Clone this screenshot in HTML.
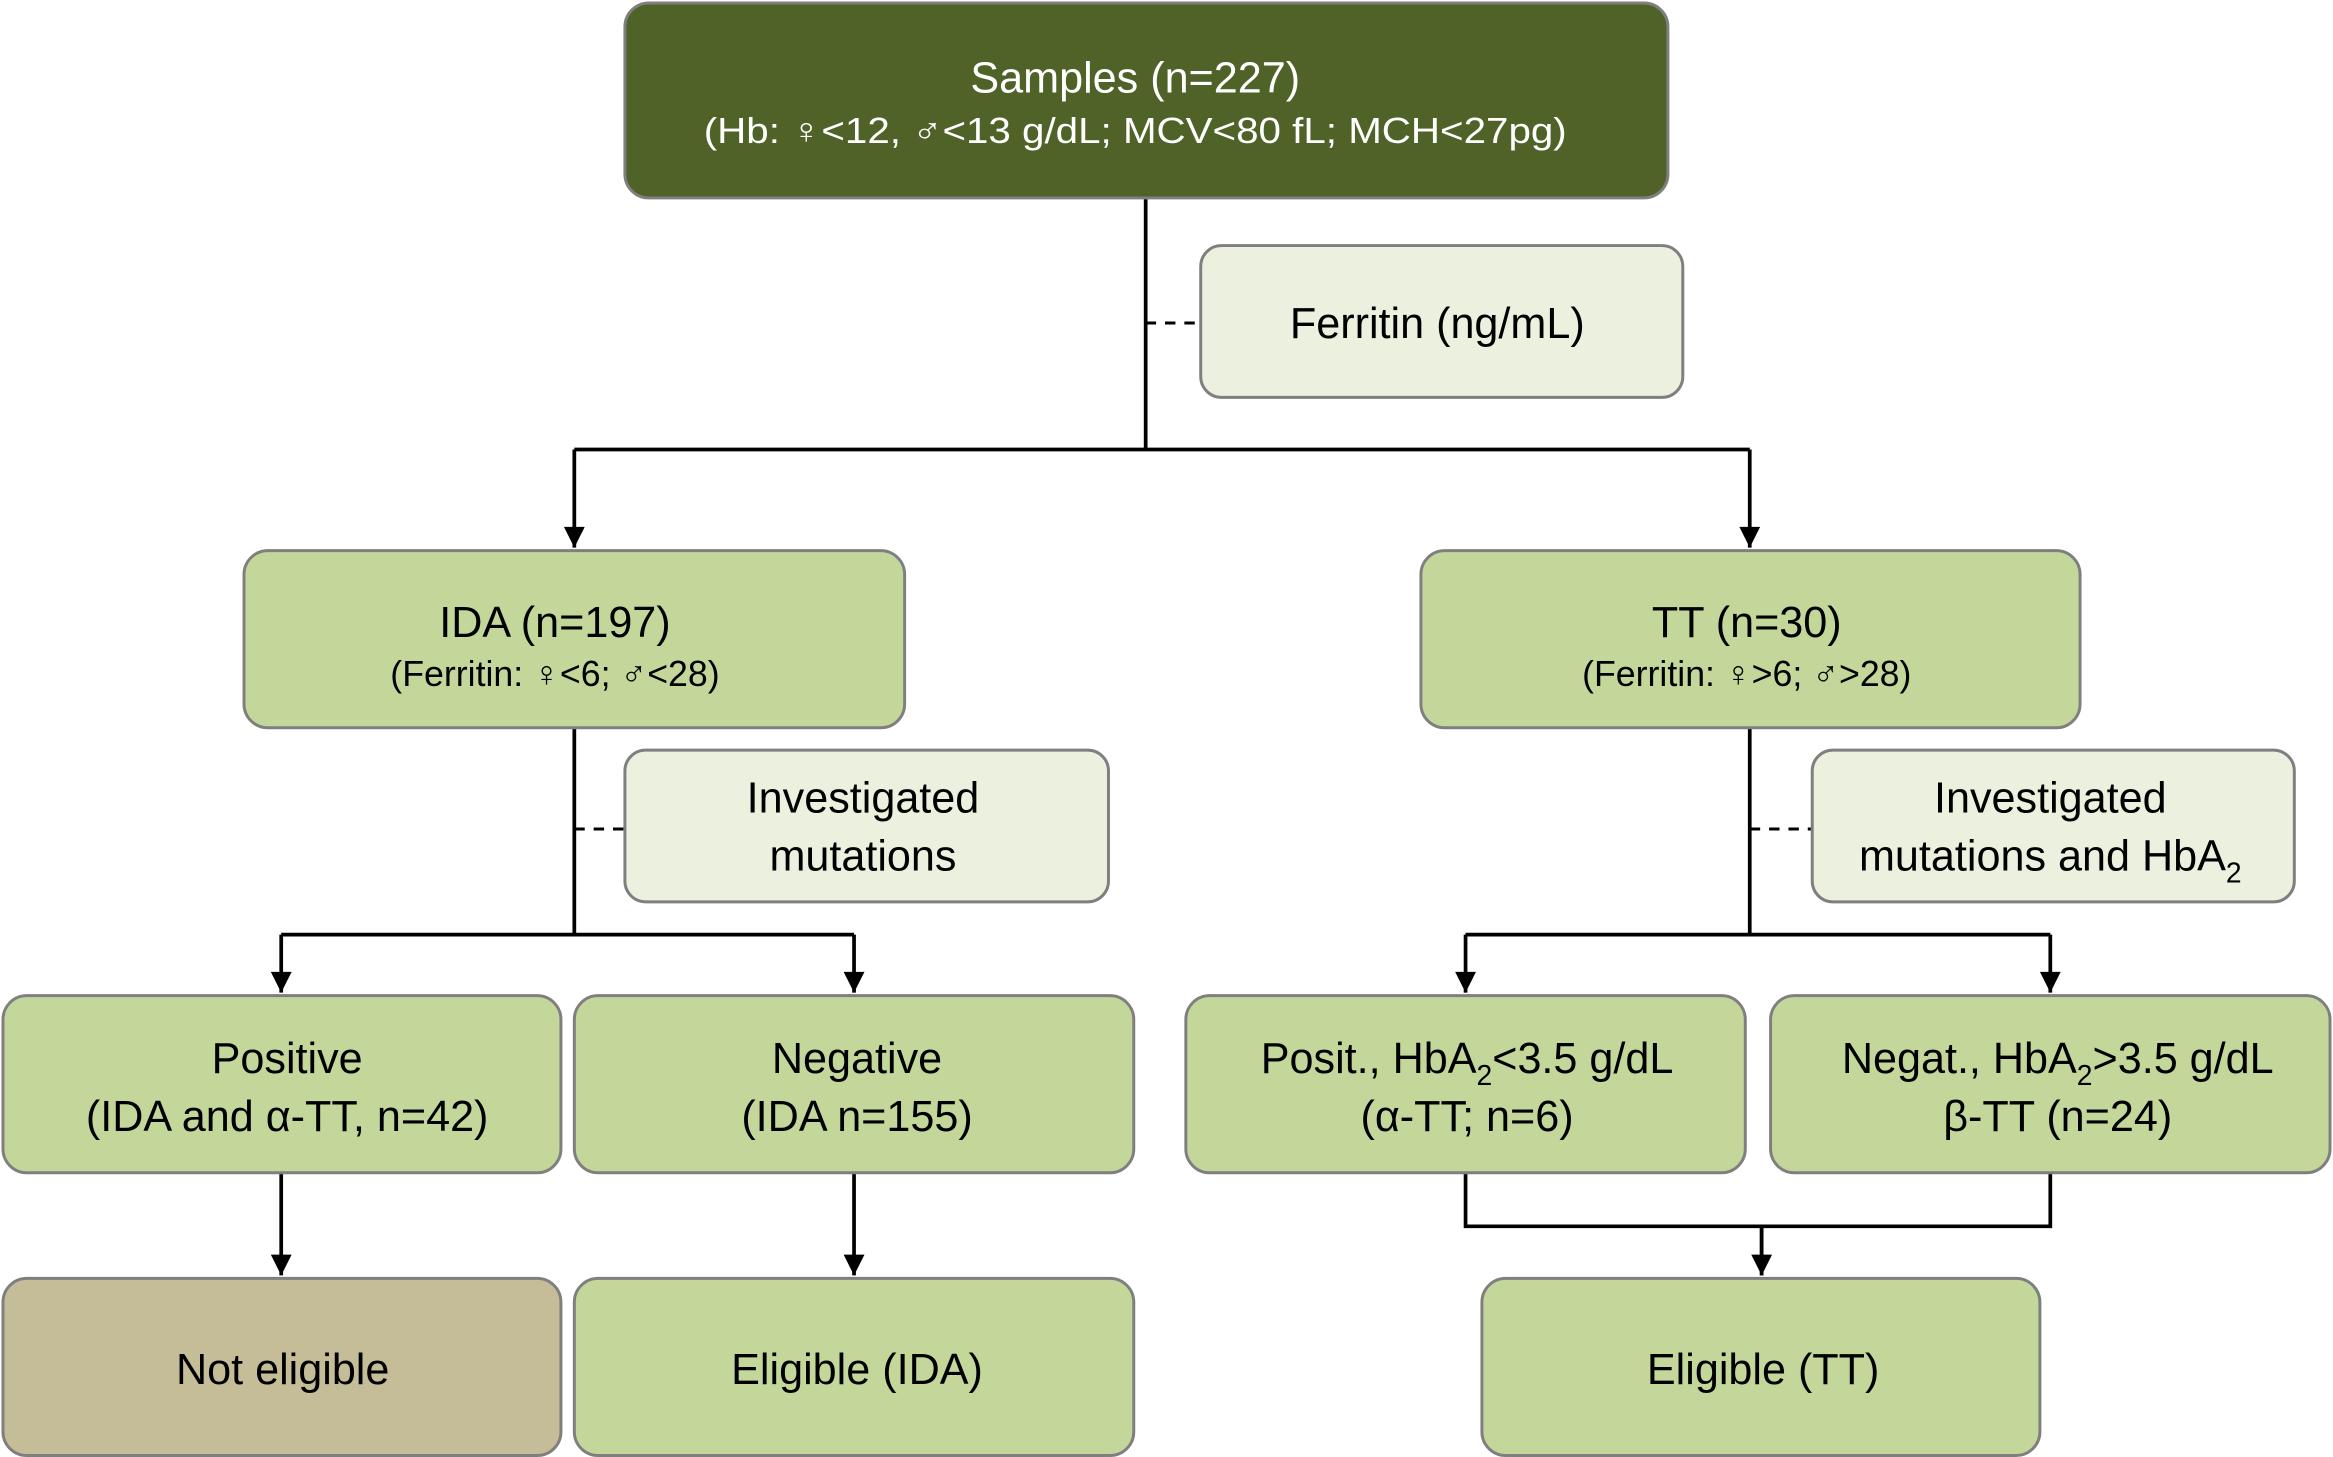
<!DOCTYPE html>
<html><head><meta charset="utf-8"><style>
html,body{margin:0;padding:0;background:#fff;}
svg{display:block}
text{font-family:"Liberation Sans","DejaVu Sans",sans-serif;text-anchor:middle;fill:#000}
</style></head><body>
<svg width="2333" height="1457" viewBox="0 0 1568 979" preserveAspectRatio="none" xmlns="http://www.w3.org/2000/svg">
<defs><marker id="a" markerWidth="10" markerHeight="10" refX="5" refY="9" orient="auto" markerUnits="userSpaceOnUse"><path d="M0,0 L10,0 L5,10 z" fill="#000"/></marker>
<marker id="b" viewBox="0 0 10 10" markerWidth="14" markerHeight="16" refX="5" refY="10" orient="0" markerUnits="userSpaceOnUse"><path d="M0,0 L10,0 L5,10 z" fill="#000"/></marker></defs>
<g stroke="#000" stroke-width="2.5" fill="none">
<path d="M770,133 V302"/>
<path d="M386,302 H1176"/>
<path d="M386,302 V368" marker-end="url(#b)"/>
<path d="M1176,302 V368" marker-end="url(#b)"/>
<path d="M386,489 V628 M189,628 H574"/>
<path d="M189,628 V667" marker-end="url(#b)"/>
<path d="M574,628 V667" marker-end="url(#b)"/>
<path d="M1176,489 V628 M985,628 H1378"/>
<path d="M985,628 V667" marker-end="url(#b)"/>
<path d="M1378,628 V667" marker-end="url(#b)"/>
<path d="M189,788 V857" marker-end="url(#b)"/>
<path d="M574,788 V857" marker-end="url(#b)"/>
<path d="M985,788 V824 H1378 V788 M1184,824 V857" />
<path d="M1184,824 V857" marker-end="url(#b)"/>
<path d="M770,217 H807 M386,557 H420 M1176,557 H1218" stroke-dasharray="7,6" stroke-width="2"/>
</g>
<g stroke="#7f7f7f" stroke-width="2">
<rect x="420" y="2" width="701" height="131" rx="16" fill="#4f6228"/>
<rect x="807" y="165" width="324" height="102" rx="14" fill="#ebf1de"/>
<rect x="164" y="370" width="444" height="119" rx="16" fill="#c4d79b"/>
<rect x="955" y="370" width="443" height="119" rx="16" fill="#c4d79b"/>
<rect x="420" y="504" width="325" height="102" rx="14" fill="#ebf1de"/>
<rect x="1218" y="504" width="324" height="102" rx="14" fill="#ebf1de"/>
<rect x="2" y="669" width="375" height="119" rx="16" fill="#c4d79b"/>
<rect x="386" y="669" width="376" height="119" rx="16" fill="#c4d79b"/>
<rect x="797" y="669" width="376" height="119" rx="16" fill="#c4d79b"/>
<rect x="1190" y="669" width="376" height="119" rx="16" fill="#c4d79b"/>
<rect x="2" y="859" width="375" height="119" rx="16" fill="#c4bd97"/>
<rect x="386" y="859" width="376" height="119" rx="16" fill="#c4d79b"/>
<rect x="996" y="859" width="375" height="119" rx="16" fill="#c4d79b"/>
</g>
<g font-size="29">
<text x="763" y="62" style="fill:#fff">Samples (n=227)</text>
<text x="763" y="96" font-size="24" style="fill:#fff" textLength="580" lengthAdjust="spacingAndGlyphs">(Hb: ♀&lt;12, ♂&lt;13 g/dL; MCV&lt;80 fL; MCH&lt;27pg)</text>
<text x="966" y="227">Ferritin (ng/mL)</text>
<text x="373" y="428">IDA (n=197)</text>
<text x="373" y="461" font-size="24">(Ferritin: ♀&lt;6; ♂&lt;28)</text>
<text x="1174" y="428">TT (n=30)</text>
<text x="1174" y="461" font-size="24">(Ferritin: ♀&gt;6; ♂&gt;28)</text>
<text x="580" y="546">Investigated</text>
<text x="580" y="585">mutations</text>
<text x="1378" y="546">Investigated</text>
<text x="1378" y="585">mutations and HbA<tspan font-size="19" dy="8">2</tspan></text>
<text x="193" y="721">Positive</text>
<text x="193" y="760">(IDA and α-TT, n=42)</text>
<text x="576" y="721">Negative</text>
<text x="576" y="760">(IDA n=155)</text>
<text x="986" y="721">Posit., HbA<tspan font-size="19" dy="8">2</tspan><tspan dy="-8">&lt;3.5 g/dL</tspan></text>
<text x="986" y="760">(α-TT; n=6)</text>
<text x="1383" y="721">Negat., HbA<tspan font-size="19" dy="8">2</tspan><tspan dy="-8">&gt;3.5 g/dL</tspan></text>
<text x="1383" y="760">β-TT (n=24)</text>
<text x="190" y="930">Not eligible</text>
<text x="576" y="930">Eligible (IDA)</text>
<text x="1185" y="930">Eligible (TT)</text>
</g>
</svg>
</body></html>
